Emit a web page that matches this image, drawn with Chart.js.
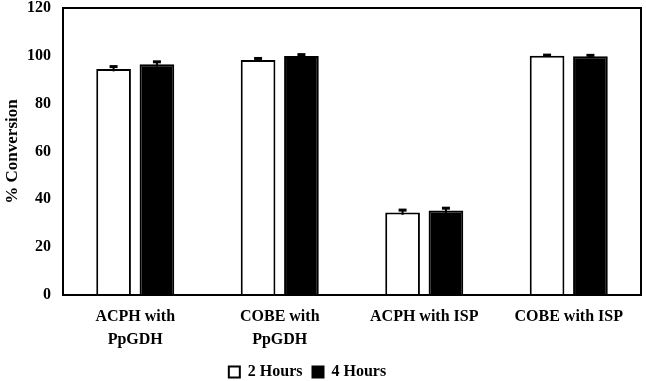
<!DOCTYPE html>
<html>
<head>
<meta charset="utf-8">
<script src="https://cdn.jsdelivr.net/npm/chart.js@4/dist/chart.umd.min.js"></script>
<style>
  html, body { margin: 0; padding: 0; background: #fff; }
  #wrap { width: 646px; height: 381px; }
</style>
</head>
<body>
<div id="wrap"><canvas id="conversionChart"></canvas></div>
<script>
// values (% conversion)
const categories = [["ACPH with", "PpGDH"], ["COBE with", "PpGDH"], "ACPH with ISP", "COBE with ISP"];
const seriesNames = ["2 Hours", "4 Hours"];
const hours2 = [94.5, 98.3, 34.5, 100];
const hours4 = [96.5, 99.9, 35.3, 99.8];
const err2 = [1.0, 0.6, 1.0, 0.3];
const err4 = [1.0, 0.6, 1.0, 0.4];
const yTicks = [0, 20, 40, 60, 80, 100, 120];

const FONT = "'Liberation Serif', 'Times New Roman', serif";

// whiskers for each bar, positioned from the bar elements / y scale
const errorBars = {
  id: "errorBars",
  afterDatasetsDraw(chart) {
    const { ctx, scales: { y } } = chart;
    ctx.save();
    ctx.strokeStyle = "#000";
    chart.data.datasets.forEach((ds, i) => {
      const meta = chart.getDatasetMeta(i);
      meta.data.forEach((bar, j) => {
        const v = ds.data[j], e = ds.errors[j];
        const yTop = y.getPixelForValue(v + e);
        const yBot = y.getPixelForValue(v - e);
        ctx.lineWidth = 2;
        ctx.beginPath();
        ctx.moveTo(bar.x, yTop);
        ctx.lineTo(bar.x, yBot);
        ctx.stroke();
        ctx.lineWidth = 3;
        ctx.beginPath();
        ctx.moveTo(bar.x - 4, yTop);
        ctx.lineTo(bar.x + 4, yTop);
        ctx.stroke();
      });
    });
    ctx.restore();
  }
};

// full box around plot area
const plotBox = {
  id: "plotBox",
  afterDraw(chart) {
    const { ctx, chartArea: a } = chart;
    ctx.save();
    ctx.strokeStyle = "#000";
    ctx.lineWidth = 2;
    ctx.strokeRect(a.left, a.top, a.right - a.left, a.bottom - a.top);
    ctx.restore();
  }
};

// legend sits a bit left of centre in the original
const legendNudge = {
  id: "legendNudge",
  afterLayout(chart) {
    const lg = chart.legend;
    lg.left -= 14;
    lg.right -= 14;
    lg.top -= 7;
  }
};

new Chart(document.getElementById("conversionChart"), {
  type: "bar",
  data: {
    labels: categories,
    datasets: [
      {
        label: seriesNames[0],
        data: hours2,
        errors: err2,
        backgroundColor: "#fff",
        borderColor: "#000",
        borderWidth: 2
      },
      {
        label: seriesNames[1],
        data: hours4,
        errors: err4,
        backgroundColor: "#000",
        borderColor: "#000",
        borderWidth: 2
      }
    ]
  },
  options: {
    responsive: true,
    maintainAspectRatio: false,
    animation: false,
    layout: { padding: { top: 0, right: 5, left: 2, bottom: 0 } },
    datasets: { bar: { categoryPercentage: 0.6, barPercentage: 0.8 } },
    scales: {
      x: {
        grid: { display: false, drawTicks: false },
        border: { color: "#000", width: 2 },
        afterFit(axis) { axis.height = 66; },
        ticks: {
          color: "#000",
          padding: 10,
          maxRotation: 0,
          font: { family: FONT, size: 16, weight: "bold", lineHeight: 1.45 }
        }
      },
      y: {
        min: 0,
        max: 120,
        afterBuildTicks(axis) {
          axis.ticks = yTicks.map(v => ({ value: v }));
        },
        afterFit(axis) {
          axis.width = 61;
          axis.paddingTop = 8;
        },
        grid: { display: false, drawTicks: false },
        border: { color: "#000", width: 2 },
        ticks: {
          color: "#000",
          padding: 12,
          font: { family: FONT, size: 16, weight: "bold" }
        },
        title: {
          display: true,
          text: "% Conversion",
          color: "#000",
          padding: { top: 0, bottom: 0 },
          font: { family: FONT, size: 17, weight: "bold" }
        }
      }
    },
    plugins: {
      legend: {
        position: "bottom",
        maxHeight: 20,
        labels: {
          color: "#000",
          boxWidth: 11,
          boxHeight: 11,
          padding: 10,
          font: { family: FONT, size: 16, weight: "bold" }
        }
      },
      tooltip: { enabled: false }
    }
  },
  plugins: [errorBars, plotBox, legendNudge]
});
</script>
</body>
</html>
